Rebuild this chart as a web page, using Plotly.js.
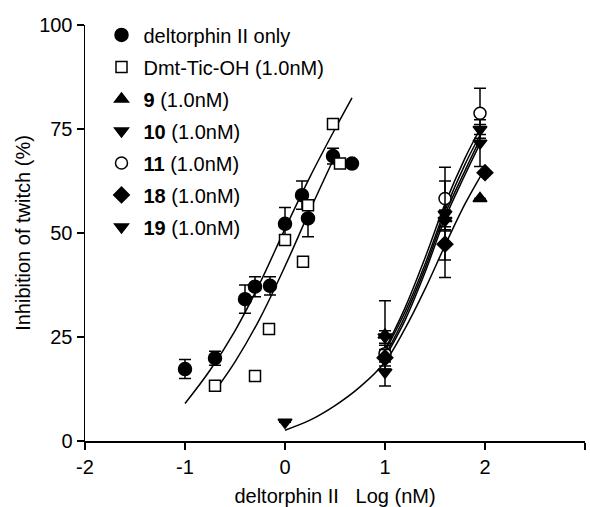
<!DOCTYPE html>
<html>
<head>
<meta charset="utf-8">
<script src="https://cdn.plot.ly/plotly-3.0.1.min.js"></script>
<style>html,body{margin:0;padding:0;background:#fff;}#chart{width:590px;height:507px;}</style>
</head>
<body>
<div id="chart"></div>
<script>
// ---- data ----
// deltorphin II only (filled circles)
const deltX = [-1.0, -0.7, -0.4, -0.3, -0.15, 0.0, 0.17, 0.23, 0.48, 0.67];
const deltY = [17.3, 19.9, 34.1, 37.1, 37.3, 52.2, 59.1, 53.5, 68.5, 66.7];
const deltE = [2.3, 1.7, 3.4, 2.4, 2.2, 3.9, 3.4, 4.4, 1.9, 0];
// Dmt-Tic-OH (open squares)
const dmtX = [-0.7, -0.3, -0.16, 0.0, 0.18, 0.23, 0.48, 0.55];
const dmtY = [13.3, 15.6, 26.9, 48.3, 43.1, 56.7, 76.2, 66.7];
// compound 9 (triangle up)
const c9X = [1.0, 1.6, 1.95];
const c9Y = [25.5, 53.5, 58.3];
const c9E = [8.2, 2, 0];
// compound 10 (triangle down)
const c10X = [1.0, 1.6, 1.95];
const c10Y = [25.0, 54.5, 74.9];
const c10E = [1.5, 4, 1.2];
// compound 11 (open circle)
const c11X = [1.0, 1.6, 1.95];
const c11Y = [21.0, 58.3, 78.8];
const c11E = [2, 7.5, 6];
// compound 18 (diamond)
const c18X = [1.0, 1.6, 2.0];
const c18Y = [20.0, 47.3, 64.5];
const c18E = [2, 8, 0];
// compound 19 (triangle down)
const c19X = [0.0, 1.0, 1.6, 1.95];
const c19Y = [4.5, 16.5, 53.0, 71.6];
const c19E = [0, 3.3, 9.5, 5.6];

// fitted curves
const fitDeltX = [-1.0, -0.75, -0.5, -0.25, 0.0, 0.25, 0.5, 0.67];
const fitDeltY = [9, 17, 26.5, 38, 51, 63.5, 75, 82.5];
const fitDmtX = [-0.68, -0.5, -0.25, 0.0, 0.25, 0.5];
const fitDmtY = [12.7, 19, 29.5, 42, 55.5, 68.5];
const fitRX = [1.0, 1.2, 1.4, 1.6, 1.8, 1.95];
const fit11Y = [22, 32, 44, 57, 68, 75];
const fit10Y = [21.5, 31, 42.5, 55.5, 66.5, 73.5];
const fit19Y = [20.5, 30, 41.5, 54.5, 65, 72.5];
const fit9Y = [20, 29, 40.5, 53.5, 64, 71.5];
const fitLongX = [0.0, 0.25, 0.5, 0.75, 1.0, 1.2, 1.4, 1.6, 1.8, 2.0];
const fitLongY = [2.6, 5, 8.5, 13, 19, 27, 36.5, 47, 57, 65.5];

const xTicks = [-2, -1, 0, 1, 2, 3];
const yTicks = [0, 25, 50, 75, 100];

const names = ['deltorphin II only', 'Dmt-Tic-OH (1.0nM)', '<b>9</b> (1.0nM)', '<b>10</b> (1.0nM)',
  '<b>11</b> (1.0nM)', '<b>18</b> (1.0nM)', '<b>19</b> (1.0nM)'];

const FONT = 'Liberation Sans, Arial, sans-serif';
function curve(x, y) {
  return {x: x, y: y, mode: 'lines', line: {color: '#000', width: 1.5, shape: 'spline'},
    showlegend: false, hoverinfo: 'skip'};
}
function pts(x, y, e, name, symbol, fill, size, grp) {
  const t = {x: x, y: y, name: name, mode: 'markers', legendgroup: grp,
    marker: {symbol: symbol, size: size, color: fill, line: {color: '#000', width: 1.5}}};
  if (e) t.error_y = {type: 'data', array: e, visible: true, color: '#000', thickness: 1.5, width: 6};
  return t;
}

const data = [
  curve(fitDeltX, fitDeltY), curve(fitDmtX, fitDmtY),
  curve(fitRX, fit11Y), curve(fitRX, fit10Y), curve(fitRX, fit19Y), curve(fitRX, fit9Y),
  curve(fitLongX, fitLongY),
  pts(deltX, deltY, deltE, names[0], 'circle', '#000', 13, 'g0'),
  pts(dmtX, dmtY, null, names[1], 'square', '#fff', 11, 'g1'),
  pts(c9X, c9Y, c9E, names[2], 'triangle-up', '#000', 12, 'g2'),
  pts(c10X, c10Y, c10E, names[3], 'triangle-down', '#000', 12, 'g3'),
  pts(c11X, c11Y, c11E, names[4], 'circle', '#fff', 12, 'g4'),
  pts(c18X, c18Y, c18E, names[5], 'diamond', '#000', 12, 'g5'),
  pts(c19X, c19Y, c19E, names[6], 'triangle-down', '#000', 12, 'g6')
];

const layout = {
  width: 590, height: 507,
  margin: {l: 85, r: 5, t: 25, b: 66},
  paper_bgcolor: '#fff', plot_bgcolor: '#fff',
  font: {family: FONT, size: 20, color: '#000'},
  showlegend: true,
  legend: {x: 0.029, y: 1.023, xanchor: 'left', yanchor: 'top', bgcolor: 'rgba(0,0,0,0)',
    traceorder: 'grouped', tracegroupgap: 3,
    font: {family: FONT, size: 20, color: '#000'}, itemwidth: 34},
  xaxis: {range: [-2, 3], tickmode: 'array', tickvals: xTicks, ticktext: xTicks.map(String),
    showgrid: false, zeroline: false, showline: true, linecolor: '#000', linewidth: 1.5,
    ticks: 'outside', ticklen: 7, tickwidth: 1.5, tickcolor: '#000',
    tickfont: {family: FONT, size: 20, color: '#000'},
    title: {text: 'deltorphin II   Log (nM)', font: {family: FONT, size: 20, color: '#000'}, standoff: 14}},
  yaxis: {range: [0, 100], tickmode: 'array', tickvals: yTicks, ticktext: yTicks.map(String),
    showgrid: false, zeroline: false, showline: true, linecolor: '#000', linewidth: 1.5,
    ticks: 'outside', ticklen: 7, tickwidth: 1.5, tickcolor: '#000',
    tickfont: {family: FONT, size: 20, color: '#000'},
    title: {text: 'Inhibition of twitch (%)', font: {family: FONT, size: 20, color: '#000'}, standoff: 3}}
};

Plotly.newPlot('chart', data, layout, {displayModeBar: false, staticPlot: true});
</script>
</body>
</html>
